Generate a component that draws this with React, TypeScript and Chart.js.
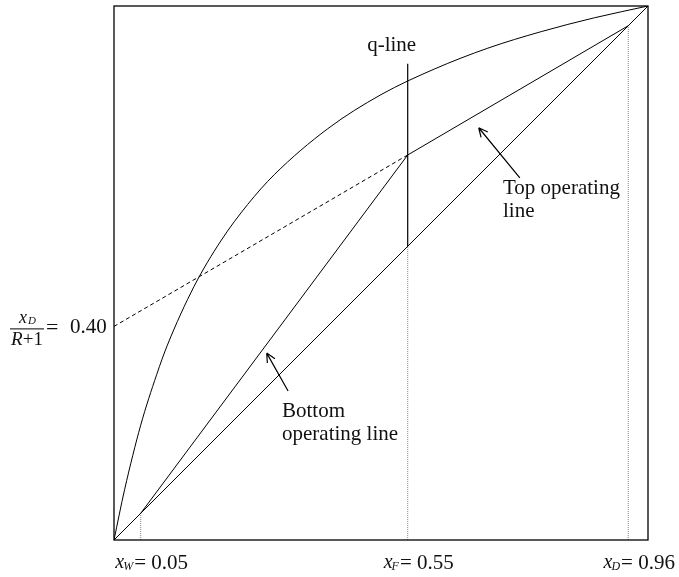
import React, { useEffect, useRef } from "react";
import { Chart, registerables } from "chart.js";

Chart.register(...registerables);

// Equilibrium curve
const eqX = [0, 0.02, 0.05, 0.08, 0.1, 0.15, 0.2, 0.25, 0.3, 0.4, 0.5, 0.6, 0.7, 0.8, 0.9, 1.0];
const eqY = [0, 0.095, 0.215, 0.31, 0.365, 0.475, 0.56, 0.628, 0.684, 0.77, 0.834, 0.882, 0.921, 0.952, 0.978, 1.0];

// Key compositions
const xW = 0.05;
const xF = 0.55;
const xD = 0.963;
const intercept = 0.40; // xD/(R+1)
const qTop = 0.892;
const opIntersectY = 0.721;

const bottomLabels = ["W", "F", "D"];
const bottomValues = ["0.05", "0.55", "0.96"];

const SERIF = "'Liberation Serif', 'Times New Roman', serif";

export default function App() {
  const ref = useRef<HTMLCanvasElement | null>(null);

  useEffect(() => {
    document.body.style.margin = "0";
    const canvas = ref.current!;
    const black = "#000";

    const annot = {
      id: "annot",
      afterDraw(chart: any) {
        const ctx = chart.ctx as CanvasRenderingContext2D;
        const xs = chart.scales.x;
        const ys = chart.scales.y;
        const a = chart.chartArea;
        ctx.save();
        // box
        ctx.strokeStyle = black;
        ctx.lineWidth = 1.3;
        ctx.strokeRect(a.left, a.top, a.right - a.left, a.bottom - a.top);

        ctx.fillStyle = "#111";
        ctx.textBaseline = "middle";

        // bottom labels
        const vals = [xW, xF, xD];
        vals.forEach((v, i) => {
          const cx = xs.getPixelForValue(v) + 11;
          const y = a.bottom + 23;
          ctx.font = `italic 20px ${SERIF}`;
          const wx = ctx.measureText("x").width;
          ctx.font = `italic 12px ${SERIF}`;
          const ws = ctx.measureText(bottomLabels[i]).width;
          ctx.font = `21px ${SERIF}`;
          const rest = "= " + bottomValues[i];
          const wr = ctx.measureText(rest).width;
          const total = wx + ws + wr;
          let x = cx - total / 2;
          ctx.textAlign = "left";
          ctx.font = `italic 20px ${SERIF}`;
          ctx.fillText("x", x, y);
          x += wx;
          ctx.font = `italic 12px ${SERIF}`;
          ctx.fillText(bottomLabels[i], x - 1, y + 4);
          x += ws;
          ctx.font = `21px ${SERIF}`;
          ctx.fillText(rest, x, y);
        });

        // left fraction label
        const yI = ys.getPixelForValue(intercept);
        const fcx = 27;
        ctx.textAlign = "center";
        ctx.font = `italic 18px ${SERIF}`;
        ctx.fillText("x", fcx - 4, yI - 8);
        ctx.font = `italic 11px ${SERIF}`;
        ctx.fillText("D", fcx + 5, yI - 5);
        ctx.beginPath();
        ctx.lineWidth = 1;
        ctx.moveTo(10, yI + 2.5);
        ctx.lineTo(44, yI + 2.5);
        ctx.stroke();
        ctx.font = `italic 19px ${SERIF}`;
        const wR = ctx.measureText("R").width;
        ctx.font = `19px ${SERIF}`;
        const wP = ctx.measureText("+1").width;
        const dx = fcx - (wR + wP) / 2;
        ctx.textAlign = "left";
        ctx.font = `italic 19px ${SERIF}`;
        ctx.fillText("R", dx, yI + 14);
        ctx.font = `19px ${SERIF}`;
        ctx.fillText("+1", dx + wR, yI + 14);
        ctx.font = `22px ${SERIF}`;
        ctx.fillText("=", 46, yI + 2);
        ctx.font = `21px ${SERIF}`;
        ctx.fillText("0.40", 70, yI + 1);

        // q-line label
        ctx.textAlign = "center";
        ctx.font = `21px ${SERIF}`;
        ctx.fillText("q-line", xs.getPixelForValue(xF) - 16, ys.getPixelForValue(qTop) - 18);

        // arrows
        const arrow = (x1: number, y1: number, x2: number, y2: number) => {
          const p1x = xs.getPixelForValue(x1), p1y = ys.getPixelForValue(y1);
          const p2x = xs.getPixelForValue(x2), p2y = ys.getPixelForValue(y2);
          ctx.beginPath();
          ctx.lineWidth = 1.2;
          ctx.moveTo(p1x, p1y);
          ctx.lineTo(p2x, p2y);
          const ang = Math.atan2(p2y - p1y, p2x - p1x);
          const L = 10, sp = 0.45;
          ctx.moveTo(p2x, p2y);
          ctx.lineTo(p2x - L * Math.cos(ang - sp), p2y - L * Math.sin(ang - sp));
          ctx.moveTo(p2x, p2y);
          ctx.lineTo(p2x - L * Math.cos(ang + sp), p2y - L * Math.sin(ang + sp));
          ctx.stroke();
        };
        arrow(0.76, 0.678, 0.683, 0.772);
        arrow(0.326, 0.279, 0.286, 0.350);

        // text for arrows
        ctx.textAlign = "left";
        ctx.font = `21px ${SERIF}`;
        ctx.fillText("Top operating", 503, 188);
        ctx.fillText("line", 503, 211);
        ctx.fillText("Bottom", 282, 411);
        ctx.fillText("operating line", 282, 434);
        ctx.restore();
      },
    };

    const line = (data: { x: number; y: number }[], extra: any = {}) => ({
      type: "scatter" as const,
      data,
      showLine: true,
      borderColor: black,
      borderWidth: 1,
      pointRadius: 0,
      fill: false,
      ...extra,
    });

    const chart = new Chart(canvas, {
      type: "scatter",
      data: {
        datasets: [
          line(eqX.map((x, i) => ({ x, y: eqY[i] })), { cubicInterpolationMode: "monotone" }),
          line([{ x: 0, y: 0 }, { x: 1, y: 1 }]),
          line([{ x: xF, y: opIntersectY }, { x: xD, y: xD }]),
          line([{ x: xW, y: xW }, { x: xF, y: opIntersectY }]),
          line([{ x: 0, y: intercept }, { x: xF, y: opIntersectY }], { borderDash: [4, 3] }),
          line([{ x: xF, y: xF }, { x: xF, y: qTop }], { borderWidth: 1.2 }),
          line([{ x: xW, y: 0 }, { x: xW, y: xW }], { borderColor: "#888", borderDash: [1, 1] }),
          line([{ x: xF, y: 0 }, { x: xF, y: xF }], { borderColor: "#888", borderDash: [1, 1] }),
          line([{ x: xD, y: 0 }, { x: xD, y: xD }], { borderColor: "#888", borderDash: [1, 1] }),
        ],
      },
      options: {
        responsive: false,
        animation: false,
        layout: { padding: { left: 114, right: 31, top: 6, bottom: 37 } },
        plugins: { legend: { display: false }, tooltip: { enabled: false } },
        scales: {
          x: { type: "linear", min: 0, max: 1, display: false },
          y: { type: "linear", min: 0, max: 1, display: false },
        },
      },
      plugins: [annot],
    });
    return () => chart.destroy();
  }, []);

  return (
    <div style={{ width: 679, height: 577, background: "#fff" }}>
      <canvas ref={ref} width={679} height={577} />
    </div>
  );
}
